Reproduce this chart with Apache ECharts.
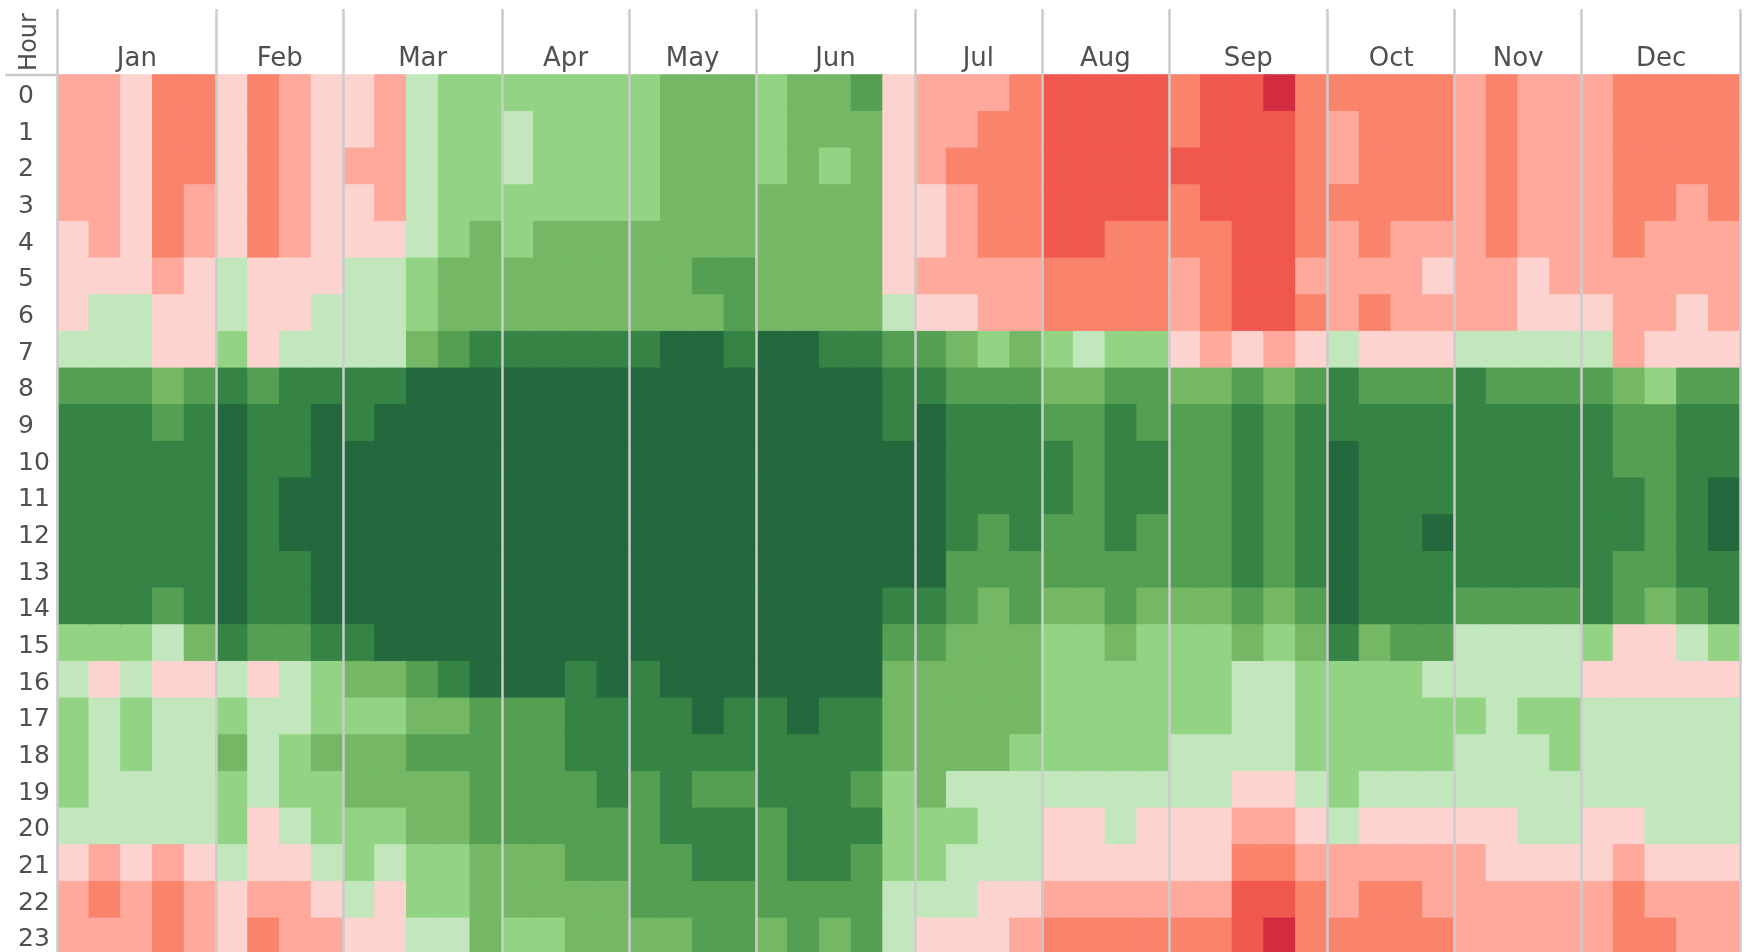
<!DOCTYPE html>
<html>
<head>
<meta charset="utf-8">
<style>
  html, body { margin: 0; padding: 0; background: #fff; overflow: hidden; }
  #main { width: 1746px; height: 952px; }
</style>
<script src="https://cdn.jsdelivr.net/npm/echarts@6/dist/echarts.min.js"></script>
</head>
<body>
<div id="main"></div>
<script>
var hours = ['0','1','2','3','4','5','6','7','8','9','10','11','12','13','14','15','16','17','18','19','20','21','22','23'];
var months = ['Jan','Feb','Mar','Apr','May','Jun','Jul','Aug','Sep','Oct','Nov','Dec'];

// one row per hour, one number per week column, 0 = hottest red .. 10 = darkest green
var jan = [[3,3,4,2,2],[3,3,4,2,2],[3,3,4,2,2],[3,3,4,2,3],[4,3,4,2,3],[4,4,4,3,4],[4,5,5,4,4],[5,5,5,4,4],
  [8,8,8,7,8],[9,9,9,8,9],[9,9,9,9,9],[9,9,9,9,9],[9,9,9,9,9],[9,9,9,9,9],[9,9,9,8,9],[6,6,6,5,7],
  [5,4,5,4,4],[6,5,6,5,5],[6,5,6,5,5],[6,5,5,5,5],[5,5,5,5,5],[4,3,4,3,4],[3,2,3,2,3],[3,3,3,2,3]];
var feb = [[4,2,3,4],[4,2,3,4],[4,2,3,4],[4,2,3,4],[4,2,3,4],[5,4,4,4],[5,4,4,5],[6,4,5,5],
  [9,8,9,9],[10,9,9,10],[10,9,9,10],[10,9,10,10],[10,9,10,10],[10,9,9,10],[10,9,9,10],[9,8,8,9],
  [5,4,5,6],[6,5,5,6],[7,5,6,7],[6,5,6,6],[6,4,5,6],[5,4,4,5],[4,3,3,4],[4,2,3,3]];
var mar = [[4,3,5,6,6],[4,3,5,6,6],[3,3,5,6,6],[4,3,5,6,6],[4,4,5,6,7],[5,5,6,7,7],[5,5,6,7,7],[5,5,7,8,9],
  [9,9,10,10,10],[9,10,10,10,10],[10,10,10,10,10],[10,10,10,10,10],[10,10,10,10,10],[10,10,10,10,10],[10,10,10,10,10],[9,10,10,10,10],
  [7,7,8,9,10],[6,6,7,7,8],[7,7,8,8,8],[7,7,7,7,8],[6,6,7,7,8],[6,5,6,6,7],[5,4,6,6,7],[4,4,5,5,7]];
var apr = [[6,6,6,6],[5,6,6,6],[5,6,6,6],[6,6,6,6],[6,7,7,7],[7,7,7,7],[7,7,7,7],[9,9,9,9],
  [10,10,10,10],[10,10,10,10],[10,10,10,10],[10,10,10,10],[10,10,10,10],[10,10,10,10],[10,10,10,10],[10,10,10,10],
  [10,10,9,10],[8,8,9,9],[8,8,9,9],[8,8,8,9],[8,8,8,8],[7,7,8,8],[7,7,7,7],[6,6,7,7]];
var may = [[6,7,7,7],[6,7,7,7],[6,7,7,7],[6,7,7,7],[7,7,7,7],[7,7,8,8],[7,7,7,8],[9,10,10,9],
  [10,10,10,10],[10,10,10,10],[10,10,10,10],[10,10,10,10],[10,10,10,10],[10,10,10,10],[10,10,10,10],[10,10,10,10],
  [9,10,10,10],[9,9,10,9],[9,9,9,9],[8,9,8,8],[8,9,9,9],[8,8,9,9],[8,8,8,8],[7,7,8,8]];
var jun = [[6,7,7,8,4],[6,7,7,7,4],[6,7,6,7,4],[7,7,7,7,4],[7,7,7,7,4],[7,7,7,7,4],[7,7,7,7,5],[10,10,9,9,8],
  [10,10,10,10,9],[10,10,10,10,9],[10,10,10,10,10],[10,10,10,10,10],[10,10,10,10,10],[10,10,10,10,10],[10,10,10,10,9],[10,10,10,10,8],
  [10,10,10,10,7],[9,10,9,9,7],[9,9,9,9,7],[9,9,9,8,6],[8,9,9,9,6],[8,9,9,8,6],[8,8,8,8,5],[7,8,7,8,5]];
var jul = [[3,3,3,2],[3,3,2,2],[3,2,2,2],[4,3,2,2],[4,3,2,2],[3,3,3,3],[4,4,3,3],[8,7,6,7],
  [9,8,8,8],[10,9,9,9],[10,9,9,9],[10,9,9,9],[10,9,8,9],[10,8,8,8],[9,8,7,8],[8,7,7,7],
  [7,7,7,7],[7,7,7,7],[7,7,7,6],[7,5,5,5],[6,6,5,5],[6,5,5,5],[5,5,4,4],[4,4,4,3]];
var aug = [[1,1,1,1],[1,1,1,1],[1,1,1,1],[1,1,1,1],[1,1,2,2],[2,2,2,2],[2,2,2,2],[6,5,6,6],
  [7,7,8,8],[8,8,9,8],[9,8,9,9],[9,8,9,9],[8,8,9,8],[8,8,8,8],[7,7,8,7],[6,6,7,6],
  [6,6,6,6],[6,6,6,6],[6,6,6,6],[5,5,5,5],[4,4,5,4],[4,4,4,4],[3,3,3,3],[2,2,2,2]];
var sep = [[2,1,1,0,2],[2,1,1,1,2],[1,1,1,1,2],[2,1,1,1,2],[2,2,1,1,2],[3,2,1,1,3],[3,2,1,1,2],[4,3,4,3,4],
  [7,7,8,7,8],[8,8,9,8,9],[8,8,9,8,9],[8,8,9,8,9],[8,8,9,8,9],[8,8,9,8,9],[7,7,8,7,8],[6,6,7,6,7],
  [6,6,5,5,6],[6,6,5,5,6],[5,5,5,5,6],[5,5,4,4,5],[4,4,3,3,4],[4,4,2,2,3],[3,3,1,1,2],[2,2,1,0,2]];
var oct = [[2,2,2,2],[3,2,2,2],[3,2,2,2],[2,2,2,2],[3,2,3,3],[3,3,3,4],[3,2,3,3],[5,4,4,4],
  [9,8,8,8],[9,9,9,9],[10,9,9,9],[10,9,9,9],[10,9,9,10],[10,9,9,9],[10,9,9,9],[9,7,8,8],
  [6,6,6,5],[6,6,6,6],[6,6,6,6],[6,5,5,5],[5,4,4,4],[3,3,3,3],[3,2,2,3],[2,2,2,2]];
var nov = [[3,2,3,3],[3,2,3,3],[3,2,3,3],[3,2,3,3],[3,2,3,3],[3,3,4,3],[3,3,4,4],[5,5,5,5],
  [9,8,8,8],[9,9,9,9],[9,9,9,9],[9,9,9,9],[9,9,9,9],[9,9,9,9],[8,8,8,8],[5,5,5,5],
  [5,5,5,5],[6,5,6,6],[5,5,5,6],[5,5,5,5],[4,4,5,5],[3,4,4,4],[3,3,3,3],[3,3,3,3]];
var dec = [[3,2,2,2,2],[3,2,2,2,2],[3,2,2,2,2],[3,2,2,3,2],[3,2,3,3,3],[3,3,3,3,3],[4,3,3,4,3],[5,3,4,4,4],
  [8,7,6,8,8],[9,8,8,9,9],[9,8,8,9,9],[9,9,8,9,10],[9,9,8,9,10],[9,8,8,9,9],[9,8,7,8,9],[6,4,4,5,6],
  [4,4,4,4,4],[5,5,5,5,5],[5,5,5,5,5],[5,5,5,5,5],[4,4,5,5,5],[4,3,4,4,4],[3,2,3,3,3],[3,2,2,3,3]];

var palette = ['#d32c40','#f0574e','#fa836c','#fea99b','#fdd3cf','#c2e7bc','#93d484','#74b865','#559f53','#358445','#24693e'];

var byMonth = [jan, feb, mar, apr, may, jun, jul, aug, sep, oct, nov, dec];
var weeks = [];
var data = [];
var edges = [0];
var mids = [];
var col = 0;
byMonth.forEach(function (rows) {
  var n = rows[0].length;
  mids.push(col + n / 2);
  for (var w = 0; w < n; w++) {
    weeks.push('w' + (col + w));
    rows.forEach(function (row, h) {
      // same colour border, otherwise hairline seams show between cells
      data.push({
        value: [col + w, h, row[w]],
        itemStyle: { borderColor: palette[row[w]], borderWidth: 1 }
      });
    });
  }
  col += n;
  edges.push(col);
});

var font = 'DejaVu Sans';
var textColor = '#505050';
var lineColor = '#cccccc';

var chart = echarts.init(document.getElementById('main'), null, { renderer: 'canvas' });
chart.setOption({
  animation: false,
  backgroundColor: '#ffffff',
  tooltip: { show: false },
  // last row runs a little past the bottom of the page, same as the reference
  grid: { left: 57.5, right: 5.5, top: 75, height: 880, outerBoundsMode: 'none' },
  xAxis: [
    {
      type: 'category',
      data: weeks,
      axisLine: { show: false },
      axisTick: { show: false },
      axisLabel: { show: false },
      splitLine: { show: false }
    },
    {
      type: 'value',
      position: 'top',
      min: 0,
      max: 53,
      z: 5,
      axisLine: { show: false },
      axisTick: { show: true, customValues: edges, length: 66, lineStyle: { color: lineColor, width: 2.5 } },
      splitLine: { show: true, lineStyle: { color: lineColor, width: 2.5 } },
      axisLabel: {
        customValues: mids,
        margin: 3,
        color: textColor,
        fontFamily: font,
        fontSize: 26,
        formatter: function (v) { return months[mids.indexOf(v)]; }
      }
    }
  ],
  yAxis: {
    type: 'category',
    data: hours,
    inverse: true,
    axisLine: { show: false },
    axisTick: { show: false },
    splitLine: { show: false },
    axisLabel: {
      align: 'left',
      margin: 39.5,
      interval: 0,
      verticalAlign: 'top',
      lineHeight: 6,
      color: textColor,
      fontFamily: font,
      fontSize: 25
    }
  },
  visualMap: {
    show: false,
    type: 'piecewise',
    dimension: 2,
    seriesIndex: 0,
    pieces: palette.map(function (c, i) { return { value: i, color: c }; })
  },
  graphic: [
    {
      type: 'text',
      rotation: Math.PI / 2,
      x: 30,
      y: 42,
      style: { text: 'Hour', fill: textColor, font: '24px "DejaVu Sans"', align: 'center', verticalAlign: 'middle' }
    },
    {
      type: 'line',
      shape: { x1: 5, y1: 75, x2: 57, y2: 75 },
      style: { stroke: lineColor, lineWidth: 2.5 }
    }
  ],
  series: [{
    type: 'heatmap',
    xAxisIndex: 0,
    yAxisIndex: 0,
    data: data,
    emphasis: { disabled: true }
  }]
});
</script>
</body>
</html>
